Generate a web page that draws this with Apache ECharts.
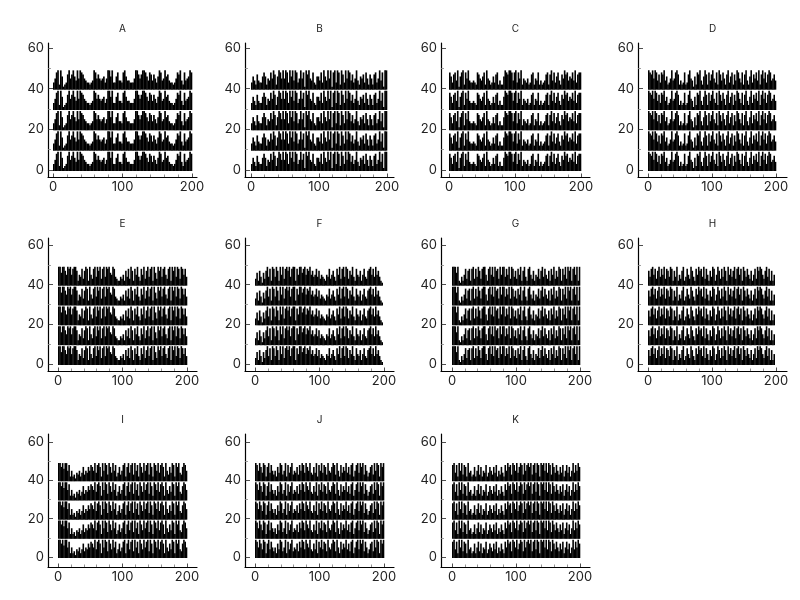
<!DOCTYPE html>
<html><head><meta charset="utf-8">
<script src="https://cdn.jsdelivr.net/npm/echarts@6/dist/echarts.min.js"></script>
<style>html,body{margin:0;background:#fff}#c{width:800px;height:600px}</style></head>
<body><div id="c"></div>
<script>
const names = ['A','B','C','D','E','F','G','H','I','J','K'];
const rowOffsets = [0,10,20,30,40];
const xStep = 2;
const A = [3,5,8,9,2,9,6,1,2,3, 7,9,5,7,9,6,4,9,5,9, 8,7,5,4,3,3,2,3,4,9, 8,5,7,5,4,5,6,3,5,9, 9,6,9,3,3,6,8,4,4,3, 8,9,6,4,4,3,3,3,5,9, 9,7,5,7,9,9,8,6,4,8, 7,4,7,5,3,6,9,8,4,5, 9,6,7,4,3,3,2,3,5,8, 7,9,4,2,8,4,5,6,9,8];
const B = [3,6,4,2,7,4,3,3,6,8, 6,2,5,4,8,5,9,7,2,6, 9,8,5,9,5,9,8,3,9,6, 9,4,9,8,3,5,9,5,8,1, 9,7,9,5,4,8,3,2,6,6, 4,8,3,9,6,4,9,5,9,1, 8,9,3,9,8,2,9,7,3,9, 5,9,8,4,7,3,5,9,4,2, 6,5,7,3,8,5,2,7,5,2, 7,8,3,5,9,4,8,1,9,9];
const C = [8,6,3,7,8,4,9,1,6,8, 9,2,8,5,9,4,3,3,4,3, 2,8,7,5,4,6,8,2,9,5, 4,2,3,6,3,7,8,2,4,2, 2,6,9,8,7,9,9,8,4,8, 9,3,8,5,9,2,5,4,3,5, 2,3,7,8,2,5,4,8,2,4, 2,3,4,7,8,2,7,9,4,8, 3,6,8,4,2,7,5,9,7,8, 4,6,5,8,4,9,3,7,8,8];
const D = [9,8,7,9,5,9,8,4,7,3, 8,7,9,4,6,2,3,5,9,4, 5,8,9,7,2,4,2,3,8,2, 3,7,9,5,4,1,6,2,8,7, 9,4,2,6,9,7,2,8,4,7, 9,5,3,8,2,9,7,4,8,5, 2,7,9,3,6,8,2,7,4,9, 8,5,3,8,2,7,9,4,2,6, 9,3,7,5,8,4,9,2,7,9, 5,8,3,7,9,8,4,5,7,4];
const E = [9,9,6,9,9,7,5,9,8,9, 5,8,9,9,7,2,5,4,8,3, 7,9,8,2,9,5,3,8,9,4, 9,7,9,3,8,9,4,9,8,9, 6,5,9,8,4,3,2,2,4,3, 5,2,7,4,8,3,9,7,2,8, 5,9,4,2,8,5,9,3,7,9, 4,8,9,2,9,6,3,9,7,9, 4,8,9,5,3,8,9,2,9,7, 9,4,9,8,3,9,8,5,8,4];
const F = [3,6,2,7,4,1,6,3,7,9, 4,8,2,9,8,4,9,7,2,9, 5,9,3,8,9,7,9,4,8,9, 9,2,8,5,9,9,6,8,9,5, 8,7,9,5,7,4,5,8,4,7, 3,5,4,3,2,5,4,8,3,5, 7,4,2,8,5,9,3,8,9,4, 9,8,3,7,5,9,4,2,8,5, 4,7,2,5,8,4,3,7,8,9, 5,8,4,9,5,7,4,2,1];
const G = [9,9,9,6,9,2,1,4,2,5, 8,3,7,8,2,8,9,3,8,4, 9,7,3,8,9,9,5,2,8,9, 5,9,4,9,7,8,3,9,5,9, 9,4,8,5,9,3,9,8,4,7, 3,8,5,9,2,7,9,4,2,8, 9,5,3,7,2,5,4,8,3,7, 9,4,8,5,3,7,2,8,5,9, 3,7,4,9,8,2,8,5,9,3, 9,7,9,2,8,9,5,9,2,9];
const H = [7,4,8,9,5,8,3,7,9,4, 8,5,9,3,8,7,4,9,8,2, 7,4,9,2,5,3,7,9,2,4, 8,5,3,9,7,4,2,8,5,9, 7,8,4,9,3,8,5,2,7,4, 9,8,2,5,9,7,3,8,4,9, 7,2,9,5,8,4,7,9,3,8, 9,5,8,2,9,7,4,8,5,3, 7,2,5,8,3,9,7,9,8,5, 3,7,9,4,8,2,7,2,5];
const I = [9,9,7,9,6,9,9,5,8,2, 5,2,3,1,4,3,5,2,4,7, 3,5,4,7,5,8,7,5,9,4, 8,9,7,2,9,5,9,8,3,9, 7,4,9,5,8,2,4,7,3,5, 8,9,2,7,9,4,8,9,3,9, 5,8,2,9,7,4,9,5,8,9, 3,9,7,2,9,8,5,9,4,8, 9,7,2,9,5,3,7,4,9,8, 2,9,7,9,4,3,7,9,8,5];
const J = [9,8,5,9,7,4,9,8,2,7, 9,4,8,5,3,5,2,7,4,9, 8,3,5,9,2,8,4,7,9,3, 5,4,7,3,8,5,9,8,4,9, 7,5,9,4,3,7,4,9,2,8, 5,9,4,8,7,3,9,5,4,7, 9,8,3,9,5,2,8,4,7,5, 9,4,7,3,8,9,2,5,8,9, 4,9,7,9,3,8,5,2,4,7, 8,3,9,5,9,8,2,9,7,9];
const K = [8,9,4,8,2,9,5,9,3,8, 7,2,9,4,5,2,3,7,2,5, 8,3,7,2,5,4,8,2,4,7, 5,3,7,4,8,2,5,3,7,4, 2,8,5,9,7,8,3,9,8,5, 9,4,7,9,8,3,9,5,8,9, 7,9,3,8,9,4,9,8,2,9, 8,9,5,9,4,9,8,3,9,7, 4,8,5,3,7,4,8,2,5,8, 4,7,2,5,9,4,8,5,9,7];
const seriesValues = [A,B,C,D,E,F,G,H,I,J,K];
const xMajor = [0,100,200];
const xMinor = [20,40,60,80,120,140,160,180];
const yMajor = [0,20,40,60];
const yMinor = [10,30,50];

// Layout: axes box of each panel, and where the 0/200 and 0/60 ticks fall in it
const colLeft = [48,245,441,638], boxW = 149;
const rows = [{bottom:177,top:43,y0:170,y60:48},{bottom:371,top:238,y0:364,y60:245},{bottom:567,top:434,y0:557,y60:442}];
const xTick = [[53,192],[251,387],[449,581],[648,776],[58,187],[255,384],[452,580],[648,776],[58,187],[255,384],[452,580]];
const F0 = 'Inter, sans-serif';

const grid=[],xAxis=[],yAxis=[],series=[],title=[];
names.forEach((n,i)=>{
  const r = rows[Math.floor(i/4)], left = colLeft[i%4];
  const sx = (xTick[i][1]-xTick[i][0])/200, sy = (r.y0-r.y60)/60;
  const xr = [-(xTick[i][0]-left)/sx, (left+boxW-xTick[i][0])/sx];
  const yr = [-(r.bottom-r.y0)/sy, (r.y0-r.top)/sy];
  grid.push({left:left,top:r.top,width:boxW,height:r.bottom-r.top});
  title.push({text:n,left:left+boxW/2-5,top:r.top-24,textAlign:'center',textStyle:{fontFamily:F0,fontSize:10,fontWeight:'normal',color:'#222'}});
  const g = i*2;
  xAxis.push({type:'value',gridIndex:i,min:xr[0],max:xr[1],splitLine:{show:false},
    axisLine:{show:true,onZero:false,lineStyle:{color:'#000',width:1.2}},
    axisTick:{show:true,inside:true,length:3.5,customValues:xMajor,lineStyle:{color:'#222',width:0.8}},
    axisLabel:{fontFamily:F0,fontSize:13,color:'#222',margin:4,customValues:xMajor,hideOverlap:false,showMinLabel:true,showMaxLabel:true}});
  xAxis.push({type:'value',gridIndex:i,min:xr[0],max:xr[1],splitLine:{show:false},position:'bottom',
    axisLine:{show:false,onZero:false},axisLabel:{show:false},
    axisTick:{show:true,inside:true,length:2.5,customValues:xMinor,lineStyle:{color:'#777',width:0.8}}});
  yAxis.push({type:'value',gridIndex:i,min:yr[0],max:yr[1],splitLine:{show:false},
    axisLine:{show:true,onZero:false,lineStyle:{color:'#000',width:1.2}},
    axisTick:{show:true,inside:true,length:5,customValues:yMajor,lineStyle:{color:'#222',width:0.8}},
    axisLabel:{fontFamily:F0,fontSize:13,color:'#222',margin:4,customValues:yMajor}});
  yAxis.push({type:'value',gridIndex:i,min:yr[0],max:yr[1],splitLine:{show:false},position:'left',
    axisLine:{show:false,onZero:false},axisLabel:{show:false},
    axisTick:{show:true,inside:true,length:3,customValues:yMinor,lineStyle:{color:'#888',width:0.8}}});
  const data=[];
  rowOffsets.forEach(off=>seriesValues[i].forEach((v,k)=>data.push([k*xStep,off,v])));
  series.push({type:'custom',xAxisIndex:g,yAxisIndex:g,silent:true,animation:false,clip:false,data,
    encode:{x:0,y:[1,2]},
    renderItem:(p,api)=>{
      const x=api.value(0),b=api.value(1),v=api.value(2);
      const p0=api.coord([x,b]),p1=api.coord([x+xStep,b+v]);
      return {type:'rect',shape:{x:p0[0],y:p1[1],width:p1[0]-p0[0]+0.3,height:p0[1]-p1[1]+1},style:{fill:'#000'}};
    }});
});
const chart=echarts.init(document.getElementById('c'),null,{renderer:'canvas'});
chart.setOption({animation:false,backgroundColor:'#fff',title,grid,xAxis,yAxis,series});
</script></body></html>
